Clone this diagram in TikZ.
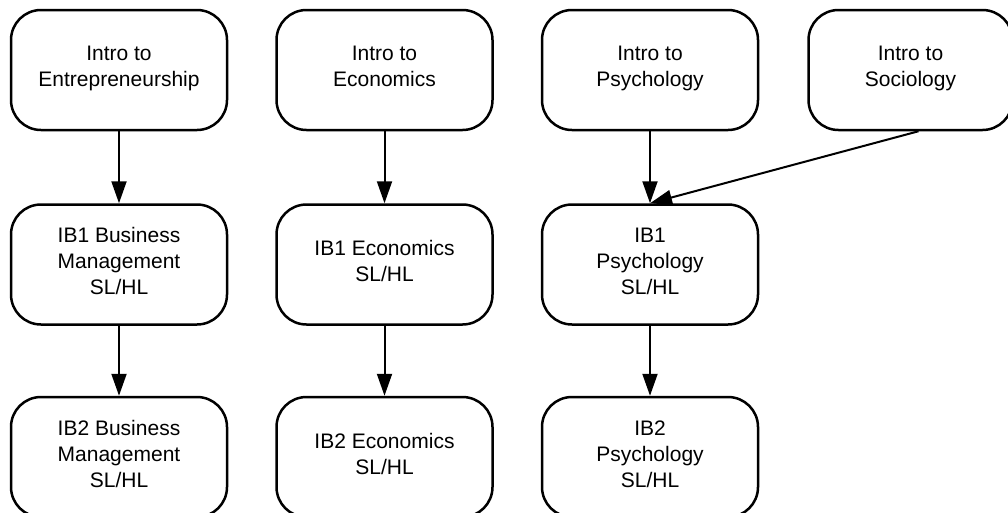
\documentclass[tikz,border=0pt]{standalone}
\usepackage{fontspec}
\setmainfont{Liberation Sans}
\usepackage{tikz}
\usetikzlibrary{positioning,arrows.meta}
\newcommand{\linestrut}{\rule[-6.5pt]{0pt}{22pt}}

\begin{document}
\begin{tikzpicture}[node distance=47pt and 71pt]
\tikzstyle{course}=[draw,line width=2.5pt,rounded corners=30pt,align=center,
  minimum width=216pt,minimum height=120pt,inner sep=2pt,
  font=\fontsize{21}{26}\selectfont,
  execute at begin node=\linestrut,execute at end node=\linestrut]
\tikzstyle{prereq}=[line width=2pt,-{Triangle[length=22pt,width=15pt]}]
\useasboundingbox (0,0) rectangle (1008pt,-512pt);
\node [course] (a) at (119pt,-70pt) {Intro to\\Entrepreneurship};
\node [course,right=47pt of a] (b) {Intro to\\Economics};
\node [course,right=47pt of b] (c) {Intro to\\Psychology};
\node [course,minimum width=204pt,right=48pt of c] (d) {Intro to\\Sociology};
\node [course,below=72pt of a] (e) {IB1 Business\\Management\\SL/HL};
\node [course,below=72pt of b] (f) {IB1 Economics\\SL/HL};
\node [course,below=72pt of c] (g) {IB1\\Psychology\\SL/HL};
\node [course,below=70pt of e] (h) {IB2 Business\\Management\\SL/HL};
\node [course,below=70pt of f] (i) {IB2 Economics\\SL/HL};
\node [course,below=70pt of g] (j) {IB2\\Psychology\\SL/HL};
\path[prereq]
    (a) edge (e)
    (b) edge (f)
    (c) edge (g)
    ([xshift=8pt]d.south) edge (g.north);
\path[prereq]
    (e) edge (h)
    (f) edge (i)
    (g) edge (j);
\end{tikzpicture}
\end{document}
